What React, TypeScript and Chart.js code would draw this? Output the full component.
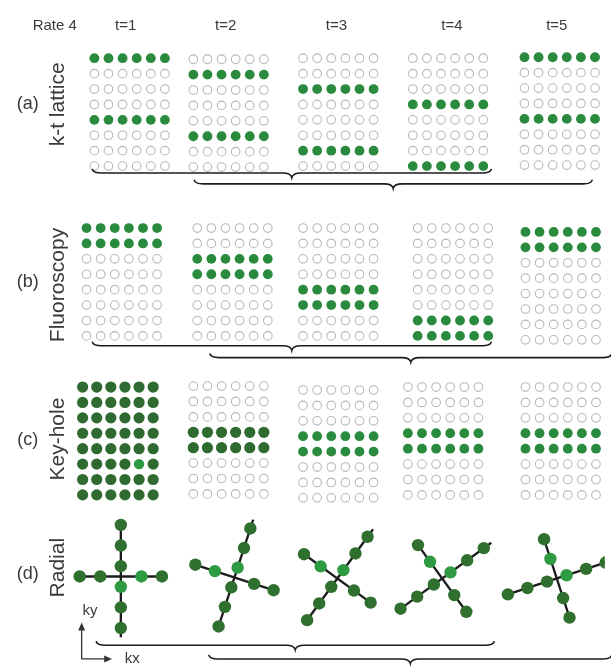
import { useEffect, useRef } from "react";
import { Chart, registerables } from "chart.js";

Chart.register(...registerables);

// ---- data: time frames and k-space sampling patterns (rate 4) ----
const frameLabels = ["t=1", "t=2", "t=3", "t=4", "t=5"];
const rowCount = 8;
const colCount = 6;

// phase-encode rows acquired in each frame
const latticeRows = [[0, 4], [1, 5], [2, 6], [3, 7], [0, 4]];
const fluoroRows = [[0, 1], [2, 3], [4, 5], [6, 7], [0, 1]];
const keyholeRows = [[0, 1, 2, 3, 4, 5, 6, 7], [3, 4], [3, 4], [3, 4], [3, 4]];
// frames whose acquired rows are shown in the dark "full/reference" colour
const keyholeDarkFrames = [0, 1];
// k-space centre sample marked in the fully sampled reference frame [row, col]
const keyholeCentre = [5, 4];

// radial: angle (deg) of the first spoke per frame; second spoke is perpendicular
const spokeAngles = [-90, 72, 54, 36, 18];
const spokeSteps = [-2.5, -1.5, -0.5, 0.5, 1.5, 2.5];
const crossSteps = [-2, -1, 1, 2];

const panelTags = ["(a)", "(b)", "(c)", "(d)"];
const panelNames = ["k-t lattice", "Fluoroscopy", "Key-hole", "Radial"];

// ---- layout ----
const W = 611;
const H = 672;
const COL_STEP = 14.4;
const ROW_STEP = 15.7;
const SPOKE_STEP = 21;
const gridLayout = {
  a: { x0: [90, 191, 303, 415, 529], y0: [53, 54, 53, 53, 52] },
  b: { x0: [82, 195, 303, 420, 530], y0: [226, 226, 226, 226, 230] },
  c: { x0: [78, 191, 303, 410, 530], y0: [388, 387, 391, 388, 388] },
};
const radialCentres = [[117, 581], [233, 582], [338, 583], [445, 583], [562, 583]];
const frameLabelX = [122, 224, 337, 455, 562];
const panelMidY = [100, 281, 442, 578];
const panelNameY = [100, 284, 441, 572];
const braces = [
  { x1: 88, x2: 495, y: 170 },
  { x1: 192, x2: 598, y: 181 },
  { x1: 88, x2: 495, y: 346 },
  { x1: 208, x2: 618, y: 358 },
  { x1: 92, x2: 498, y: 651 },
  { x1: 207, x2: 618, y: 665 },
];

// ---- colours ----
const GREEN = "#2a8a3d";
const DARK_GREEN = "#2f6b30";
const LIGHT_GREEN = "#2e9a42";
const EMPTY = "#b8b8b8";
const INK = "#3a3a3a";
const LINE = "#1c1c1c";

type Pt = { x: number; y: number };

function gridDatasets(rows: number[][], lay: { x0: number[]; y0: number[] }, dark: number[] = [], centre: number[] | null = null) {
  const empty: Pt[] = [];
  const filled: Pt[] = [];
  const darkPts: Pt[] = [];
  const lightPts: Pt[] = [];
  rows.forEach((acq, f) => {
    for (let r = 0; r < rowCount; r++) {
      for (let c = 0; c < colCount; c++) {
        const p = { x: lay.x0[f] + c * COL_STEP, y: lay.y0[f] + r * ROW_STEP };
        if (!acq.includes(r)) empty.push(p);
        else if (dark.includes(f)) {
          if (centre && f === 0 && centre[0] === r && centre[1] === c) lightPts.push(p);
          else darkPts.push(p);
        } else filled.push(p);
      }
    }
  });
  const out: any[] = [
    { data: empty, pointRadius: 4.3, pointBackgroundColor: "#fff", pointBorderColor: EMPTY, pointBorderWidth: 1.1, order: 0 },
    { data: filled, pointRadius: 4.9, pointBackgroundColor: GREEN, pointBorderWidth: 0, order: 0 },
  ];
  if (darkPts.length) out.push({ data: darkPts, pointRadius: 5.6, pointBackgroundColor: DARK_GREEN, pointBorderWidth: 0, order: 0 });
  if (lightPts.length) out.push({ data: lightPts, pointRadius: 5.2, pointBackgroundColor: LIGHT_GREEN, pointBorderWidth: 0, order: 0 });
  return out;
}

function radialDatasets() {
  const out: any[] = [];
  const dark: Pt[] = [];
  const light: Pt[] = [];
  spokeAngles.forEach((deg, f) => {
    const [cx, cy] = radialCentres[f];
    const a = (deg * Math.PI) / 180;
    const b = ((deg + 90) * Math.PI) / 180;
    const at = (ang: number, d: number): Pt => ({ x: cx + Math.cos(ang) * d, y: cy - Math.sin(ang) * d });
    out.push({ data: [at(a, -2.55 * SPOKE_STEP), at(a, 2.95 * SPOKE_STEP)], showLine: true, borderColor: LINE, borderWidth: 2.3, pointRadius: 0, order: 2 });
    out.push({ data: [at(b, -2.1 * SPOKE_STEP), at(b, 2.1 * SPOKE_STEP)], showLine: true, borderColor: LINE, borderWidth: 2.3, pointRadius: 0, order: 2 });
    spokeSteps.forEach((s) => (s === 0.5 ? light : dark).push(at(a, s * SPOKE_STEP)));
    crossSteps.forEach((s) => (s === 1 ? light : dark).push(at(b, s * SPOKE_STEP)));
  });
  out.push({ data: dark, pointRadius: 6.2, pointBackgroundColor: "#30702f", pointBorderWidth: 0, order: 0 });
  out.push({ data: light, pointRadius: 6.2, pointBackgroundColor: LIGHT_GREEN, pointBorderWidth: 0, order: 0 });
  return out;
}

function drawBrace(ctx: CanvasRenderingContext2D, x1: number, x2: number, y: number) {
  const tip = 4.5;
  const curl = 3.5;
  const r = 9;
  const mid = (x1 + x2) / 2;
  ctx.beginPath();
  ctx.moveTo(x1, y - curl);
  ctx.quadraticCurveTo(x1 + 1, y, x1 + r, y);
  ctx.lineTo(mid - r, y);
  ctx.quadraticCurveTo(mid - 1, y, mid, y + tip);
  ctx.quadraticCurveTo(mid + 1, y, mid + r, y);
  ctx.lineTo(x2 - r, y);
  ctx.quadraticCurveTo(x2 - 1, y, x2, y - curl);
  ctx.stroke();
}

const decorPlugin = {
  id: "decor",
  afterDatasetsDraw(chart: any) {
    const { ctx } = chart;
    const sx = chart.scales.x;
    const sy = chart.scales.y;
    const px = (v: number) => sx.getPixelForValue(v);
    const py = (v: number) => sy.getPixelForValue(v);
    ctx.save();

    // braces
    ctx.strokeStyle = LINE;
    ctx.lineWidth = 1.6;
    ctx.lineCap = "round";
    braces.forEach((b) => drawBrace(ctx, px(b.x1), px(b.x2), py(b.y)));

    // headers
    ctx.fillStyle = INK;
    ctx.textBaseline = "middle";
    ctx.font = "15px 'Liberation Sans', Arial, sans-serif";
    ctx.textAlign = "left";
    ctx.fillText("Rate 4", px(27), py(20));
    ctx.textAlign = "center";
    frameLabels.forEach((t, i) => ctx.fillText(t, px(frameLabelX[i]), py(20)));

    // panel tags and rotated names
    ctx.font = "18px 'Liberation Sans', Arial, sans-serif";
    panelTags.forEach((t, i) => ctx.fillText(t, px(22), py(panelMidY[i])));
    ctx.font = "21px 'Liberation Sans', Arial, sans-serif";
    panelNames.forEach((t, i) => {
      ctx.save();
      ctx.translate(px(53), py(panelNameY[i]));
      ctx.rotate(-Math.PI / 2);
      ctx.fillText(t, 0, 0);
      ctx.restore();
    });

    // k-space axes
    ctx.strokeStyle = "#333";
    ctx.fillStyle = "#333";
    ctx.lineWidth = 1.3;
    const ox = px(77);
    const oy = py(665);
    ctx.beginPath();
    ctx.moveTo(ox, py(634));
    ctx.lineTo(ox, oy);
    ctx.lineTo(px(102), oy);
    ctx.stroke();
    ctx.beginPath();
    ctx.moveTo(ox, py(628));
    ctx.lineTo(ox - 3.5, py(636));
    ctx.lineTo(ox + 3.5, py(636));
    ctx.closePath();
    ctx.fill();
    ctx.beginPath();
    ctx.moveTo(px(108), oy);
    ctx.lineTo(px(100), oy - 3.5);
    ctx.lineTo(px(100), oy + 3.5);
    ctx.closePath();
    ctx.fill();
    ctx.fillStyle = INK;
    ctx.font = "15px 'Liberation Sans', Arial, sans-serif";
    ctx.textAlign = "left";
    ctx.fillText("ky", px(78), py(616));
    ctx.fillText("kx", px(121), py(665));

    ctx.restore();
  },
};

export default function App() {
  const ref = useRef<HTMLCanvasElement>(null);
  useEffect(() => {
    document.body.style.margin = "0";
    const datasets = [
      ...gridDatasets(latticeRows, gridLayout.a),
      ...gridDatasets(fluoroRows, gridLayout.b),
      ...gridDatasets(keyholeRows, gridLayout.c, keyholeDarkFrames, keyholeCentre),
      ...radialDatasets(),
    ];
    const chart = new Chart(ref.current as HTMLCanvasElement, {
      type: "scatter",
      data: { datasets },
      options: {
        responsive: false,
        animation: false,
        devicePixelRatio: 1,
        layout: { padding: 0 },
        events: [],
        scales: {
          x: { type: "linear", min: 0, max: W, display: false },
          y: { type: "linear", min: 0, max: H, reverse: true, display: false },
        },
        plugins: { legend: { display: false }, tooltip: { enabled: false } },
      },
      plugins: [decorPlugin],
    } as any);
    return () => chart.destroy();
  }, []);
  return <canvas ref={ref} width={W} height={H} style={{ display: "block", background: "#fff" }} />;
}
